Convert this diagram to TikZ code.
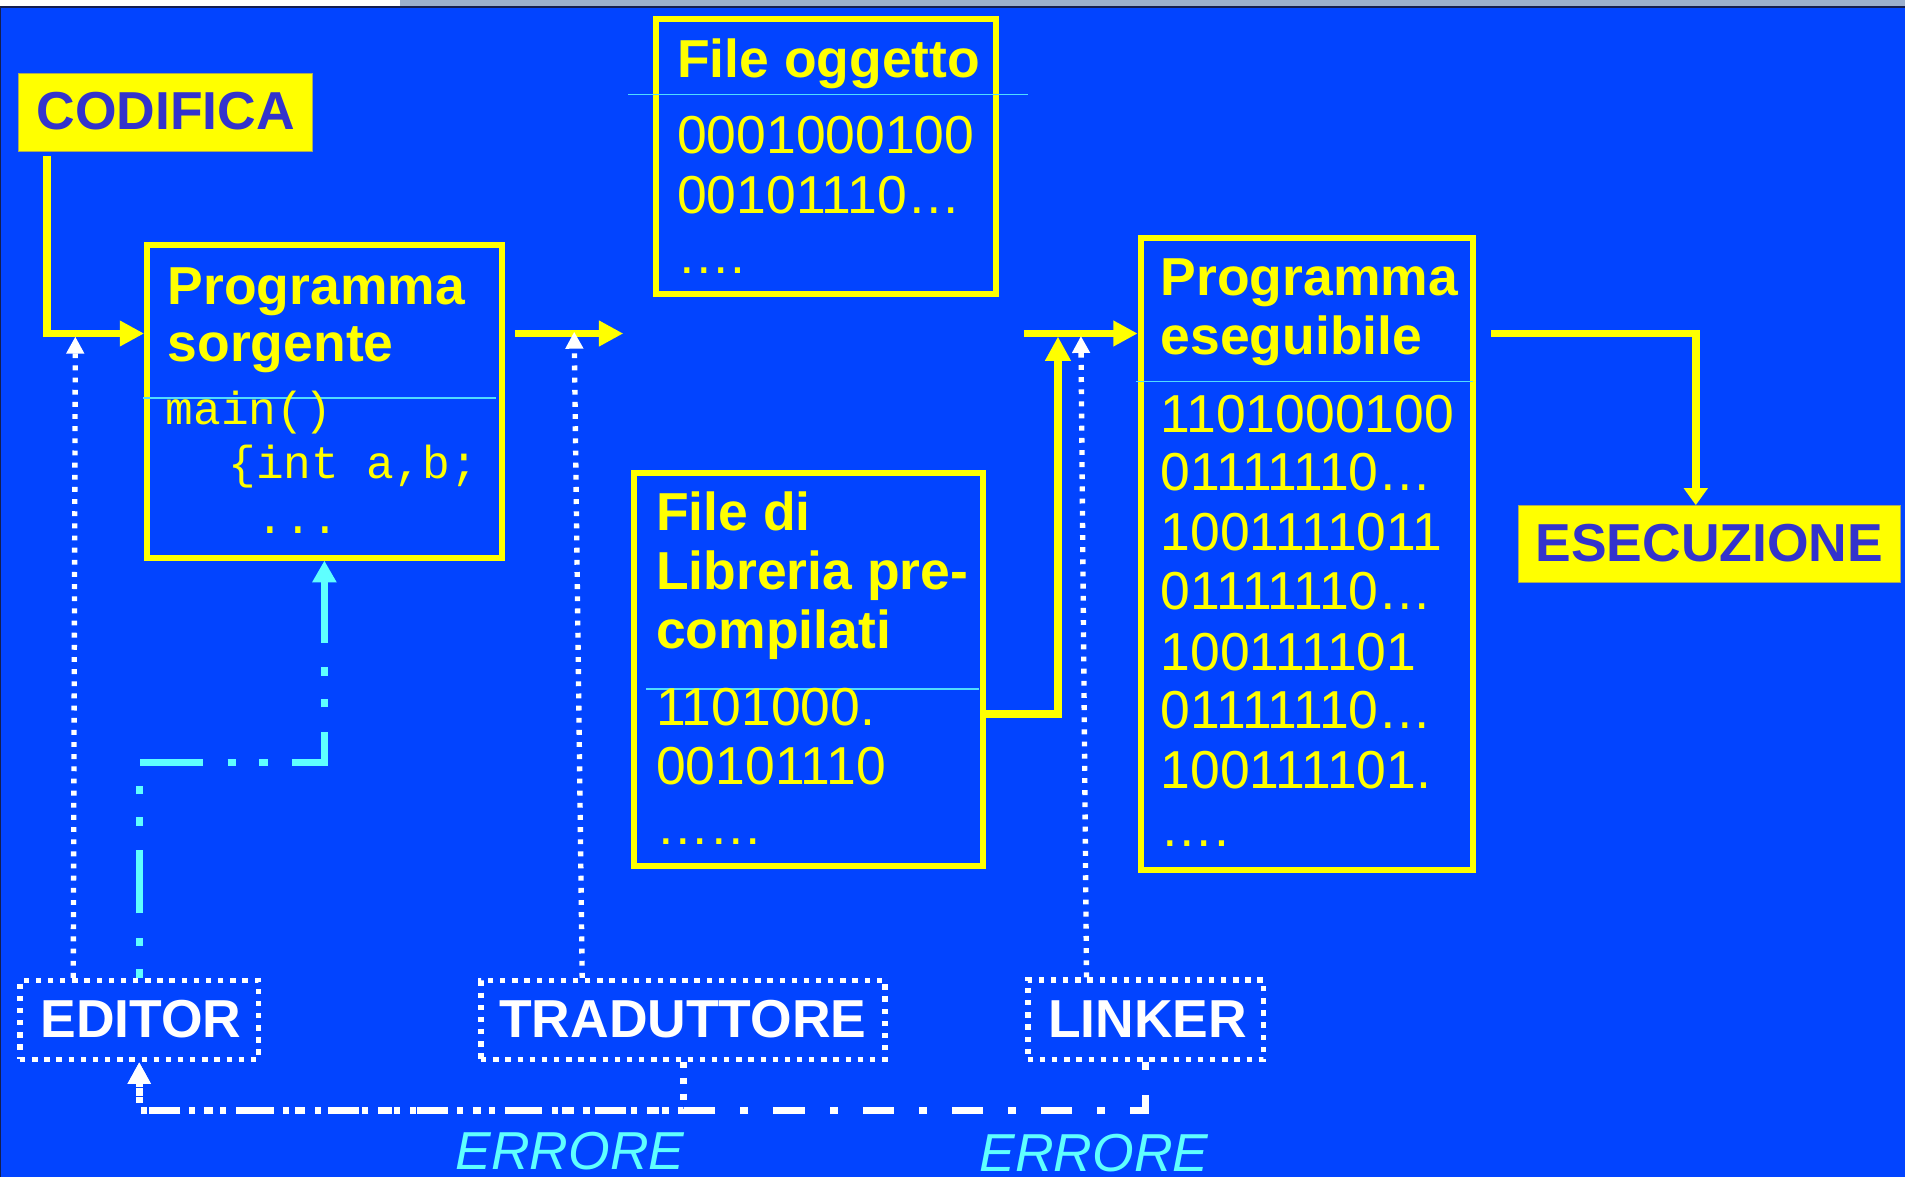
\documentclass[tikz,border=0pt]{standalone}
\usepackage{fontspec}
\setmainfont{Liberation Sans}
\newfontfamily\monofnt{Liberation Mono}
\usetikzlibrary{arrows.meta,fit}
\definecolor{bgblue}{RGB}{2,68,255}
\definecolor{ylw}{RGB}{255,255,0}
\definecolor{lblue}{RGB}{51,51,204}
\definecolor{divc}{RGB}{80,220,255}
\definecolor{cyn}{RGB}{95,255,255}
\definecolor{stripg}{RGB}{155,175,205}
\definecolor{navyc}{RGB}{20,30,80}
\definecolor{olivec}{RGB}{170,170,90}
\begin{document}
\begin{tikzpicture}[x=0.5pt,y=-0.5pt,
  ybox/.style={draw=ylw,line width=2.4pt,inner sep=0pt},
  fbox/.style={fill=ylw,draw=olivec,line width=0.5pt,inner sep=0pt},
  wbox/.style={draw=white,line width=2.2pt,dash pattern=on 2.2pt off 2.8pt,inner sep=0pt},
  dlbl/.style={inner sep=0pt,text=lblue,font=\fontsize{22}{24}\selectfont\bfseries},
  wlbl/.style={inner sep=0pt,text=white,font=\fontsize{22}{24}\selectfont\bfseries},
  ttl/.style={anchor=base west,inner sep=0pt,text=ylw,font=\fontsize{22}{24}\selectfont\bfseries},
  dig/.style={anchor=base west,inner sep=0pt,text=ylw,font=\fontsize{22}{24}\selectfont},
  codetxt/.style={anchor=base west,inner sep=0pt,text=ylw,font=\monofnt\fontsize{19}{22}\selectfont},
  err/.style={anchor=base west,inner sep=0pt,text=cyn,font=\fontsize{22}{24}\selectfont\itshape},
  divl/.style={draw=divc,line width=0.8pt},
  yarr/.style={draw=ylw,line width=3.2pt,-{Triangle[length=10pt,width=10pt]}},
  yarrs/.style={draw=ylw,line width=3.2pt,-{Triangle[length=7pt,width=9.5pt]}},
  wdot/.style={draw=white,line width=2.2pt,dash pattern=on 2pt off 3pt,-{Triangle[length=7pt,width=7pt]}},
  cyarr/.style={draw=cyn,line width=3pt,dash pattern=on 3.5pt off 9.5pt on 3.5pt off 10pt on 26pt off 10pt,-{Triangle[length=9pt,width=9.5pt]}},
  wdashdot/.style={draw=white,line width=2.8pt,dash pattern=on 3.3pt off 10.3pt on 12.8pt off 10.3pt,-{Triangle[length=9pt,width=9pt]}},
  wdotb/.style={draw=white,line width=2.8pt,dash pattern=on 2.5pt off 4pt,-{Triangle[length=9pt,width=9pt]}}
]
% background and frame
\fill[bgblue] (0,0) rectangle (1568,969);
\useasboundingbox (0,0) rectangle (1568,969);
\fill[white] (0,0) rectangle (329,5);
\fill[stripg] (329,0) rectangle (1568,5);
\draw[navyc,line width=0.6pt] (0,5.6) -- (1568,5.6);
\draw[navyc,line width=0.6pt] (0.6,5.6) -- (0.6,969);

% coordinates
\coordinate (row) at (0,274.5);
\coordinate (mid1) at (513,274.5);
\coordinate (mid2) at (842.8,274.5);
\coordinate (j2) at (870.8,277);
\coordinate (e1) at (62,277);
\coordinate (t1) at (472.6,273);
\coordinate (l1) at (889.7,276.5);

% boxes
\node[fbox,fit={(15,60.5)(257,124.4)}] (cod) {};
\node[dlbl] (codt) at (136.5,91.5) {CODIFICA};
\node[ybox,fit={(121,201.5)(413,459)}] (src) {};
\node[ybox,fit={(539.7,15.6)(819.6,242.2)}] (obj) {};
\node[ybox,fit={(522,389)(809,713)}] (lib) {};
\node[ybox,fit={(938.8,195.7)(1212.7,716)}] (exe) {};
\node[fbox,fit={(1249.7,416.3)(1564.5,479.5)}] (esec) {};
\node[dlbl] (esect) at (1407,446.7) {ESECUZIONE};
\node[wbox,fit={(16.5,807)(212.7,872)}] (ed) {};
\node[wlbl] (edt) at (116,838.8) {EDITOR};
\node[wbox,fit={(396,807)(728.5,872)}] (tr) {};
\node[wlbl] (trt) at (562,838.8) {TRADUTTORE};
\node[wbox,fit={(846,806.6)(1040,872)}] (lk) {};
\node[wlbl] (lkt) at (944.5,838.8) {LINKER};

% dividers
\draw[divl] (118,327.6) -- (408,327.6);
\draw[divl] (517,77.8) -- (845.8,77.8);
\draw[divl] (532,567) -- (805.4,567);
\draw[divl] (934.7,314) -- (1212.7,314);

% texts: Programma sorgente
\node[ttl] (src1) at (137.7,250.4) {Programma};
\node[ttl] (src2) at (137.7,297.6) {sorgente};
\node[codetxt] (src3) at (136,349.6) {main()};
\node[codetxt] (src4) at (136,393.6) {\hspace*{25.8pt}\{int a,b;};
\node[codetxt] (src5) at (136,439.4) {\hspace*{37.4pt}...};

% File oggetto
\node[ttl] (obj1) at (557,64) {File oggetto};
\node[dig] (obj2) at (557,126.6) {0001000100};
\node[dig] (obj3) at (557,175.8) {00101110…};
\node[dig] (obj4) at (557,225.2) {….};

% Libreria
\node[ttl] (lib1) at (539.7,436.3) {File di};
\node[ttl] (lib2) at (539.7,485) {Libreria pre-};
\node[ttl] (lib3) at (539.7,533.7) {compilati};
\node[dig] (lib4) at (539.7,597.5) {1101000.};
\node[dig] (lib5) at (539.7,646) {00101110};
\node[dig] (lib6) at (539.7,695) {……};

% Programma eseguibile
\node[ttl] (exe1) at (955,243.6) {Programma};
\node[ttl] (exe2) at (955,291.4) {eseguibile};
\node[dig] (exe3) at (955,355.6) {1101000100};
\node[dig] (exe4) at (955,404) {01111110…};
\node[dig] (exe5) at (955,453) {1001111011};
\node[dig] (exe6) at (955,501.9) {01111110…};
\node[dig] (exe7) at (955,551.5) {100111101};
\node[dig] (exe8) at (955,600) {01111110…};
\node[dig] (exe9) at (955,649) {100111101.};
\node[dig] (exe10) at (955,697) {….};

% ERRORE labels
\node[err] (err1) at (374.7,963) {ERRORE};
\node[err] (err2) at (806,964.5) {ERRORE};

% yellow flow
\draw[yarr] ([shift={(24.3,3.6)}]cod.south west) |- (src.west |- row);
\draw[yarr] (src.east |- row) ++(8.5,0) -- (mid1);
\draw[yarr] (mid2) -- (exe.west |- row);
\draw[yarr] ([yshift=-18.35pt]lib.east) -| (j2);
\draw[yarrs] (exe.east |- row) ++(12.3,0) -| ([xshift=73.3pt]esec.north west);

% white dotted tool arrows
\draw[wdot] ([xshift=23pt]ed.north west) -- (e1);
\draw[wdot] ([xshift=42.7pt]tr.north west) -- (t1);
\draw[wdot] ([xshift=25.25pt]lk.north west) -- (l1);

% cyan editor loop
\draw[cyarr] (ed.north) -- ++(0,-177.3) -| (src.south);

% error returns
\draw[wdashdot] (lk.south) -- ++(0,40) -| (ed.south);
\draw[wdotb] (tr.south) -- ++(0,40) -| (ed.south);
\end{tikzpicture}
\end{document}
